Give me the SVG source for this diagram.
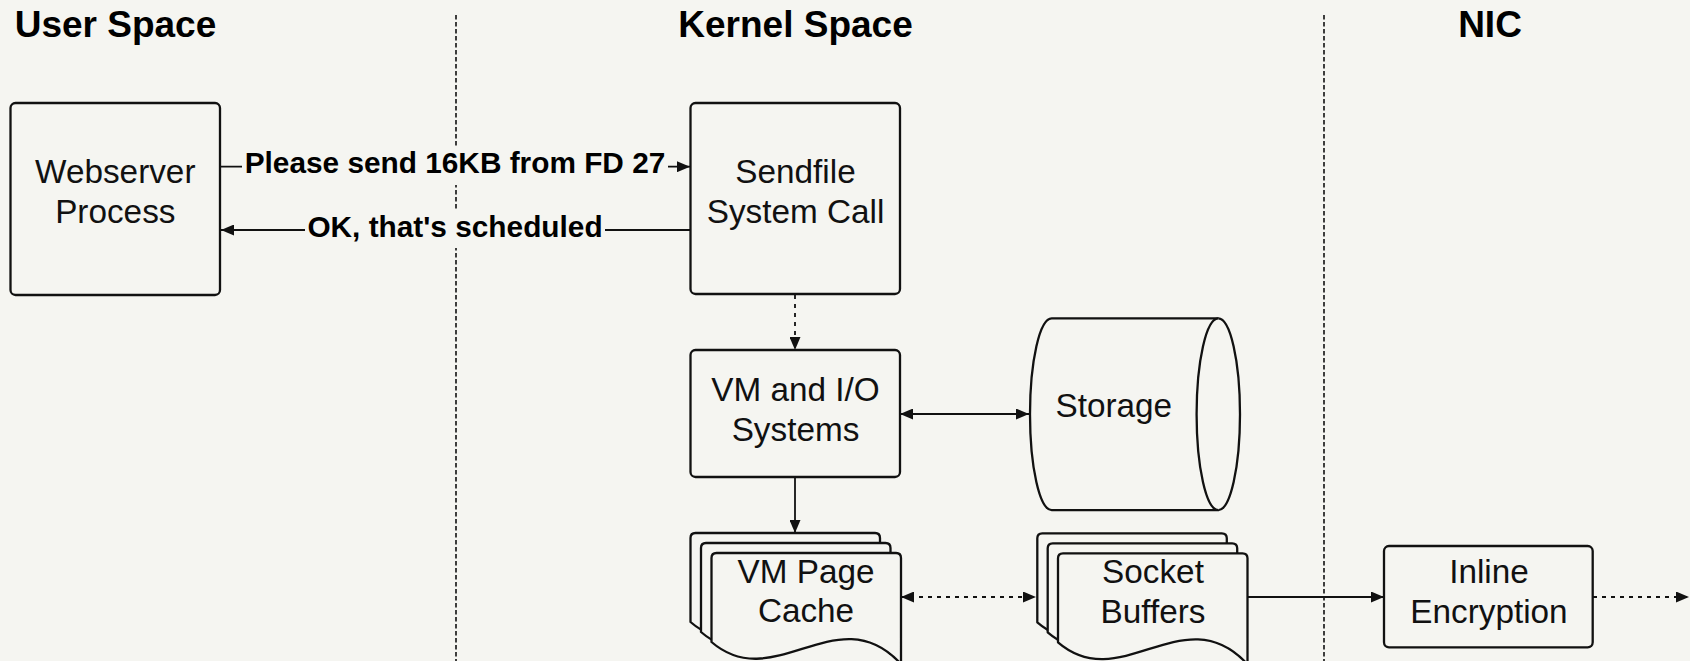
<svg xmlns="http://www.w3.org/2000/svg" xmlns:xlink="http://www.w3.org/1999/xlink" width="1690" height="661" viewBox="0 0 1690 661">
  <style>
    .bg { fill: #f5f5f1; }
    .node { fill: #f5f5f1; stroke: #111; stroke-width: 2.3; stroke-linejoin: round; }
    .lbl { font-family: "Liberation Sans", Arial, sans-serif; font-size: 33.3px; fill: #111; text-anchor: middle; }
    .title { font-family: "Liberation Sans", Arial, sans-serif; font-size: 37px; font-weight: bold; fill: #000; text-anchor: middle; }
    .msg { font-family: "Liberation Sans", Arial, sans-serif; font-size: 29.8px; font-weight: bold; fill: #000; text-anchor: middle; }
    .lane { stroke: #111; stroke-width: 1.6; stroke-dasharray: 4.5 2.5; fill: none; }
    .wire { stroke: #111; stroke-width: 1.8; fill: none; }
    .dotted { stroke-dasharray: 4 5; }
  </style>
  <defs>
    <marker id="head" viewBox="0 0 13 11" markerWidth="13" markerHeight="11" markerUnits="userSpaceOnUse" refX="13" refY="5.5" orient="auto-start-reverse">
      <path d="M0,0 L13,5.5 L0,11 Z" fill="#111"/>
    </marker>
    <!-- single page of a document stack, wavy lower edge -->
    <path id="page" d="M0,5 Q0,0 5,0 L184.5,0 Q189.5,0 189.5,5 L189.5,111 C126.3,42.4 63.2,143.2 0,89 Z"/>
  </defs>

  <rect class="bg" x="0" y="0" width="1690" height="661"/>

  <!-- lane titles and separators -->
  <g id="lanes">
    <text class="title" x="115.5" y="37">User Space</text>
    <text class="title" x="795.5" y="37">Kernel Space</text>
    <text class="title" x="1490" y="37">NIC</text>
    <line class="lane" x1="456" y1="15" x2="456" y2="661"/>
    <line class="lane" x1="1324" y1="15" x2="1324" y2="661"/>
  </g>

  <!-- connectors -->
  <g id="connectors">
    <line class="wire" x1="221" y1="166.7" x2="690" y2="166.7" marker-end="url(#head)"/>
    <line class="wire" x1="690" y1="230" x2="221" y2="230" marker-end="url(#head)"/>
    <line class="wire dotted" x1="795" y1="295" x2="795" y2="350" marker-end="url(#head)"/>
    <line class="wire" x1="900" y1="414" x2="1029" y2="414" marker-start="url(#head)" marker-end="url(#head)"/>
    <line class="wire" x1="795" y1="477" x2="795" y2="533" marker-end="url(#head)"/>
    <line class="wire dotted" x1="901" y1="597" x2="1036" y2="597" marker-start="url(#head)" marker-end="url(#head)"/>
    <line class="wire" x1="1248" y1="597" x2="1384" y2="597" marker-end="url(#head)"/>
    <line class="wire dotted" x1="1593" y1="597" x2="1689" y2="597" marker-end="url(#head)"/>
    <!-- message labels -->
    <rect class="bg" x="242" y="148" width="426" height="37"/>
    <text class="msg" x="455" y="173.3">Please send 16KB from FD 27</text>
    <rect class="bg" x="305" y="211" width="300" height="37"/>
    <text class="msg" x="455" y="236.5">OK, that's scheduled</text>
  </g>

  <g id="webserver">
    <rect class="node" x="10.5" y="103" width="209.5" height="192" rx="5"/>
    <text class="lbl"><tspan x="115.3" y="183.3">Webserver</tspan><tspan x="115.3" y="223.3">Process</tspan></text>
  </g>

  <g id="sendfile">
    <rect class="node" x="690.5" y="103" width="209.5" height="191" rx="5"/>
    <text class="lbl"><tspan x="795.5" y="183.3">Sendfile</tspan><tspan x="795.5" y="223.3">System Call</tspan></text>
  </g>

  <g id="vm-io">
    <rect class="node" x="690.5" y="350" width="209.5" height="127" rx="5"/>
    <text class="lbl"><tspan x="795.5" y="401">VM and I/O</tspan><tspan x="795.5" y="440.5">Systems</tspan></text>
  </g>

  <g id="storage">
    <path class="node" d="M1051.7,318.3 L1218.3,318.3 A21.7,95.9 0 0 1 1218.3,510.1 L1051.7,510.1 A21.7,95.9 0 0 1 1051.7,318.3 Z"/>
    <path class="node" fill="none" d="M1218.3,510.1 A21.7,95.9 0 0 1 1218.3,318.3"/>
    <text class="lbl" x="1113.8" y="417.3">Storage</text>
  </g>

  <g id="page-cache">
    <use xlink:href="#page" class="node" x="690.5" y="533"/>
    <use xlink:href="#page" class="node" x="701" y="543"/>
    <use xlink:href="#page" class="node" x="711.5" y="553"/>
    <text class="lbl"><tspan x="806" y="583.3">VM Page</tspan><tspan x="806" y="622">Cache</tspan></text>
  </g>

  <g id="socket-buffers">
    <use xlink:href="#page" class="node" x="1037.3" y="533.3"/>
    <use xlink:href="#page" class="node" x="1047.7" y="543.3"/>
    <use xlink:href="#page" class="node" x="1058" y="553.3"/>
    <text class="lbl"><tspan x="1153" y="583.3">Socket</tspan><tspan x="1153" y="622.7">Buffers</tspan></text>
  </g>

  <g id="inline-encryption">
    <rect class="node" x="1384" y="546" width="208.7" height="101.3" rx="5"/>
    <text class="lbl"><tspan x="1489" y="583.3">Inline</tspan><tspan x="1489" y="622.7">Encryption</tspan></text>
  </g>
</svg>
